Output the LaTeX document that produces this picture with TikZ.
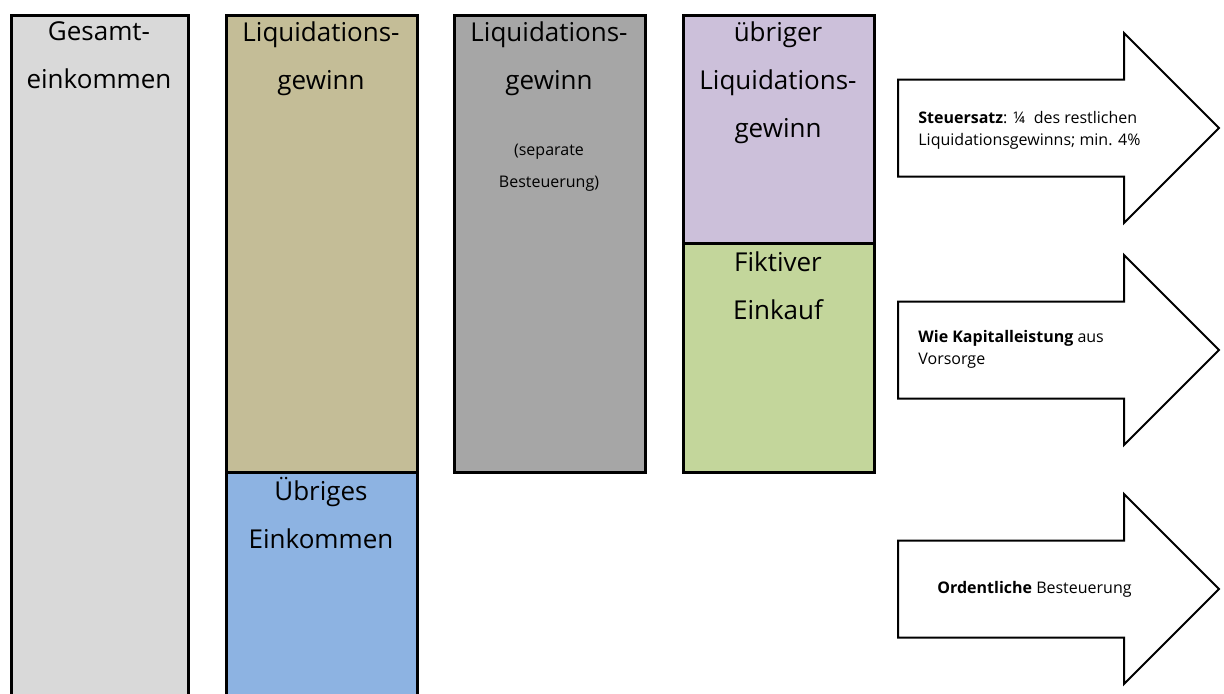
\documentclass[tikz,border=0pt]{standalone}
\usepackage{fontspec}
\setmainfont{Open Sans}
\usetikzlibrary{positioning, shapes.arrows}

\definecolor{gesamtgray}{HTML}{D9D9D9}
\definecolor{liqtan}{HTML}{C4BD97}
\definecolor{uebrigblue}{HTML}{8DB3E2}
\definecolor{sepgray}{HTML}{A6A6A6}
\definecolor{restpurple}{HTML}{CCC0DA}
\definecolor{einkaufgreen}{HTML}{C3D69B}

\begin{document}
\begin{tikzpicture}[x=0.5pt, y=-0.5pt,
bar/.style={draw=black, line width=1.5pt},
bartext/.style={anchor=north,
  align=center,
  inner sep=0pt,
  font=\fontsize{13}{24}\selectfont
},
smalltext/.style={anchor=north,
  align=center,
  inner sep=0pt,
  font=\fontsize{8}{16}\selectfont
},
bigarrow/.style={single arrow,
  draw=black,
  line width=1pt,
  fill=white,
  inner xsep=0pt,
  inner ysep=23.75pt,
  minimum height=160.5pt,
  minimum width=94pt,
  single arrow head extend=23.25pt,
  anchor=tail
},
arrowtext/.style={anchor=west,
  align=left,
  inner sep=0pt,
  font=\fontsize{8}{11}\selectfont
}
]
\useasboundingbox (0,0) rectangle (1224,693);
\clip (0,0) rectangle (1224,693);

% bars
\filldraw[bar, fill=gesamtgray] (11,15) rectangle (188,710);
\filldraw[bar, fill=uebrigblue] (226,472) rectangle (417,710);
\filldraw[bar, fill=liqtan] (226,15) rectangle (417,472);
\filldraw[bar, fill=sepgray] (454,15) rectangle (645,472);
\filldraw[bar, fill=einkaufgreen] (683,243) rectangle (874,472);
\filldraw[bar, fill=restpurple] (683,15) rectangle (874,243);

\node[bartext] (gesamt) at (99,21)
    {Gesamt-\\einkommen};
\node[bartext] (liq) at (321,21)
    {Liquidations-\\gewinn};
\node[bartext] (uebrig) at (321,477)
    {Übriges\\Einkommen};
\node[bartext] (liqsep) at (549,21)
    {Liquidations-\\gewinn};
\node[smalltext] (separat) at (549,144)
    {(separate\\Besteuerung)};
\node[bartext] (rest) at (778,21)
    {übriger\\Liquidations-\\gewinn};
\node[bartext] (einkauf) at (778,251)
    {Fiktiver\\Einkauf};

% arrows
\node[bigarrow] (satz) at (897,128) {};
\node[bigarrow] (kapital) at (897,350) {};
\node[bigarrow] (ordentlich) at (897,589) {};

\node[arrowtext] (satztext) at (918,130)
    {\textbf{Steuersatz}: ¼~ des restlichen\\Liquidationsgewinns; min. 4\%};
\node[arrowtext] (kapitaltext) at (918,349)
    {\textbf{Wie Kapitalleistung} aus\\Vorsorge};
\node[arrowtext] (ordentlichtext) at (937,589)
    {\textbf{Ordentliche} Besteuerung};
\end{tikzpicture}
\end{document}
